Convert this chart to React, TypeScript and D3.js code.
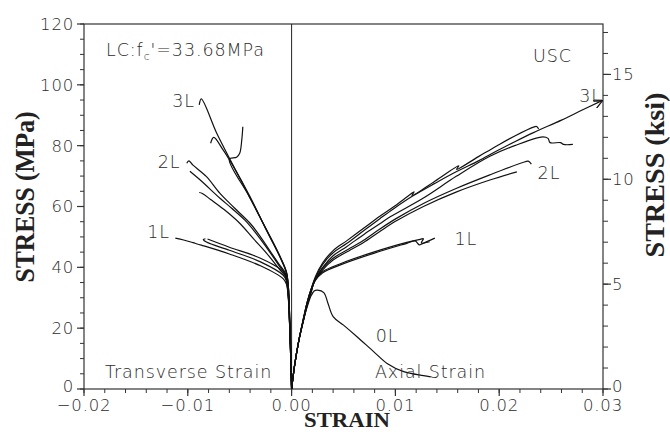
import React from "react";
import * as d3 from "d3";

type P = [number, number];

// ---- axis ticks ----
const stressTicks = [0, 20, 40, 60, 80, 100, 120];
const stressMinor = d3.range(0, 121, 5);
const strainTicks = [-0.02, -0.01, 0, 0.01, 0.02, 0.03];
const strainTickLabels = ["\u22120.02", "\u22120.01", "0.00", "0.01", "0.02", "0.03"];
const strainMinor = d3.range(-0.02, 0.0301, 0.002);
const ksiTicks = [0, 5, 10, 15];
const ksiMinor = d3.range(0, 18, 1);
const MPA_PER_KSI = 6.895;

// ---- axial strain curves ----
const axial0L: P[] = [[0, 0], [0.0003, 8], [0.0007, 16], [0.0011, 22], [0.0015, 27], [0.0019, 30.8], [0.0022, 32.3], [0.0025, 32.5], [0.0031, 31.7], [0.0035, 28.2], [0.004, 23.8], [0.005, 21], [0.0063, 17.2], [0.0079, 12.3], [0.0092, 8.4], [0.0108, 5.7], [0.0127, 4.4], [0.0134, 4.0]];
const axial1La: P[] = [[0, 0], [0.0003, 8], [0.0007, 16], [0.0011, 22], [0.0015, 27.5], [0.0019, 32], [0.0022, 35.3], [0.003, 38.2], [0.0047, 40.8], [0.0079, 44.6], [0.0111, 47.9], [0.0119, 48.7], [0.0123, 47.4], [0.0126, 47.8], [0.0138, 49.6]];
const axial1Lb: P[] = [[0, 0], [0.0003, 8], [0.0007, 16], [0.0011, 22], [0.0015, 27.5], [0.0019, 32], [0.0022, 35.6], [0.003, 38.6], [0.0047, 41.2], [0.0079, 45], [0.0111, 48.2], [0.0124, 49.2], [0.0127, 49.4], [0.0125, 48.0], [0.0133, 48.4]];
const axial2La: P[] = [[0, 0], [0.0003, 8], [0.0007, 16], [0.0011, 22], [0.0015, 28], [0.0019, 32.5], [0.0023, 36], [0.003, 39.8], [0.004, 43], [0.0055, 46], [0.0069, 48.8], [0.0085, 52.6], [0.0101, 56.1], [0.0127, 61], [0.0159, 66], [0.0191, 70.4], [0.0225, 74.7], [0.0228, 74.9], [0.0231, 73.9]];
const axial2Lb: P[] = [[0, 0], [0.0003, 8], [0.0007, 16], [0.0011, 22], [0.0015, 28], [0.0019, 32.5], [0.0023, 36], [0.003, 39.2], [0.004, 42.4], [0.0055, 45.4], [0.0069, 48.1], [0.0085, 51.8], [0.0101, 55.3], [0.0127, 60], [0.0159, 64.8], [0.0191, 68.7], [0.0217, 71.4]];
const axial3La: P[] = [[0, 0], [0.0003, 8], [0.0007, 16], [0.0011, 22.5], [0.0015, 28.5], [0.0019, 33], [0.0023, 36.5], [0.003, 41], [0.004, 44.8], [0.0053, 47.8], [0.007, 52.2], [0.0085, 56], [0.0098, 59.2], [0.0117, 63.5], [0.0138, 67.6], [0.0159, 71.5], [0.018, 75], [0.0198, 78.3], [0.0215, 81.3], [0.0233, 84.3], [0.026, 88.4], [0.028, 91.7], [0.0299, 94.8]];
const axial3Lc: P[] = [[0, 0], [0.0003, 8], [0.0007, 16], [0.0011, 22.5], [0.0015, 28.5], [0.0019, 33], [0.0023, 37], [0.003, 41.5], [0.004, 45.5], [0.0053, 48.7], [0.007, 53], [0.0085, 56.8], [0.0098, 59.8], [0.0112, 63.4], [0.0118, 64.8], [0.0116, 63.6], [0.0138, 68.3], [0.0161, 73.4], [0.0159, 72.2], [0.018, 76.4], [0.0198, 80], [0.0215, 83.2], [0.0233, 86.1], [0.0236, 86.3], [0.0238, 85.5]];
const axial3Lb: P[] = [[0, 0], [0.0003, 8], [0.0007, 16], [0.0011, 22.5], [0.0015, 28.5], [0.0019, 33], [0.0023, 36.2], [0.003, 40], [0.004, 43.8], [0.0053, 46.8], [0.007, 50.9], [0.0085, 54.3], [0.0095, 56.6], [0.0127, 62.8], [0.0159, 70], [0.0191, 76.5], [0.0215, 80], [0.0242, 82.9], [0.0247, 82.4], [0.0249, 81], [0.0259, 81], [0.0262, 80.4], [0.0271, 80.4]];

// ---- transverse strain curves ----
const trans1La: P[] = [[0, 0], [-0.0001, 12], [-0.0002, 22], [-0.0003, 29], [-0.0005, 34.5], [-0.0008, 36.2], [-0.003, 40.5], [-0.006, 44.4], [-0.0087, 47.3], [-0.0095, 48.1], [-0.0104, 49], [-0.0112, 49.6]];
const trans1Lb: P[] = [[0, 0], [-0.0001, 12], [-0.0002, 22], [-0.0003, 29.5], [-0.0005, 35.5], [-0.0008, 37.4], [-0.003, 41.8], [-0.006, 45.6], [-0.0082, 48.3], [-0.0085, 49.2], [-0.0083, 49.4]];
const trans1Lc: P[] = [[0, 0], [-0.0001, 12], [-0.0002, 22], [-0.0003, 30], [-0.0005, 36], [-0.0008, 38.6], [-0.003, 43], [-0.006, 46.6], [-0.0081, 49.3]];
const trans2La: P[] = [[0, 0], [-0.0001, 13], [-0.0002, 23], [-0.0003, 31], [-0.0005, 37.5], [-0.0012, 41], [-0.0022, 46], [-0.0032, 51], [-0.004, 54.5], [-0.0055, 59.5], [-0.0069, 64.3], [-0.0082, 69.8], [-0.0095, 73.6], [-0.0099, 75], [-0.0101, 74.2]];
const trans2Lb: P[] = [[0, 0], [-0.0001, 13], [-0.0002, 23], [-0.0003, 31], [-0.0005, 37], [-0.0012, 40.5], [-0.0022, 45.5], [-0.0035, 51.5], [-0.0045, 55.5], [-0.0058, 59.5], [-0.0069, 62.7], [-0.0088, 68.7], [-0.0098, 71.6]];
const trans2Lc: P[] = [[0, 0], [-0.0001, 12], [-0.0002, 22], [-0.0003, 30], [-0.0005, 36.5], [-0.0012, 39.5], [-0.0024, 44.6], [-0.0037, 49.5], [-0.005, 54.5], [-0.0065, 59], [-0.0078, 62.3], [-0.0086, 64.3], [-0.0089, 64.6]];
const trans3La: P[] = [[0, 0], [-0.0001, 15], [-0.0002, 25], [-0.0003, 33], [-0.0005, 38.5], [-0.0011, 43.5], [-0.0024, 52.3], [-0.0041, 63.5], [-0.0059, 75.3], [-0.0072, 84], [-0.0087, 95.4], [-0.0089, 93.4]];
const trans3Lb: P[] = [[0, 0], [-0.0001, 15], [-0.0002, 25], [-0.0003, 33], [-0.0005, 38.2], [-0.0011, 43.2], [-0.0024, 52], [-0.004, 63.2], [-0.0056, 73.1], [-0.0066, 78.6], [-0.0075, 82.7], [-0.0078, 80.8]];
const trans3Lc: P[] = [[0, 0], [-0.0001, 15], [-0.0002, 25], [-0.0003, 33], [-0.0005, 38.4], [-0.0011, 43.4], [-0.0024, 52.2], [-0.0041, 63.4], [-0.006, 75.6], [-0.0053, 76.2], [-0.005, 77.5], [-0.0048, 81.9], [-0.0047, 86.2]];

const curves: P[][] = [axial0L, axial1La, axial1Lb, axial2La, axial2Lb, axial3Lb, axial3Lc, trans1La, trans1Lb, trans1Lc, trans2La, trans2Lb, trans2Lc, trans3La, trans3Lb, trans3Lc];
const arrowCurve: P[] = axial3La;

// curve labels: [strain, stress, text]
const curveLabels: [number, number, string][] = [
  [-0.0115, 92.7, "3L"], [-0.0129, 72.7, "2L"], [-0.0139, 49.7, "1L"],
  [0.0277, 94.4, "3L"], [0.0237, 69.2, "2L"], [0.0157, 47.3, "1L"], [0.0081, 15.4, "0L"],
];

const W = 670, H = 432;
const L = 84, R = 603, T = 24, B = 389;

export default function App() {
  const x = d3.scaleLinear().domain([-0.02, 0.03]).range([L, R]);
  const y = d3.scaleLinear().domain([0, 120]).range([B, T]);
  const line = d3.line<P>().x(d => x(d[0])).y(d => y(d[1])).curve(d3.curveCatmullRom.alpha(0.5));
  const tickFont = { fontFamily: "'DejaVu Sans', sans-serif", fontSize: 16.5, fill: "#2a2a2a", fontWeight: 300 as any, letterSpacing: 0.8 };
  const noteFont = { fontFamily: "'DejaVu Sans', sans-serif", fontSize: 17.5, fill: "#2a2a2a", fontWeight: 300 as any, letterSpacing: 0.9 };
  const axisColor = "#333";
  return (
    <svg width={W} height={H} style={{ position: "absolute", left: 0, top: 0, background: "#fff" }}>
      <defs>
        <marker id="arr" viewBox="0 0 10 10" refX="9" refY="5" markerWidth="9" markerHeight="9" orient="auto" markerUnits="userSpaceOnUse">
          <path d="M0,0 L10,5 L0,10" fill="none" stroke="#111" strokeWidth={1.4} />
        </marker>
      </defs>
      {/* frame */}
      <rect x={L} y={T} width={R - L} height={B - T} fill="none" stroke={axisColor} strokeWidth={1.2} />
      <line x1={x(0)} x2={x(0)} y1={B} y2={T} stroke="#222" strokeWidth={1} />
      {/* left axis */}
      {stressMinor.map(v => (
        <line key={"sm" + v} x1={L - 4} x2={L} y1={y(v)} y2={y(v)} stroke={axisColor} strokeWidth={1} />
      ))}
      {stressTicks.map(v => (
        <g key={"st" + v}>
          <line x1={L - 7} x2={L} y1={y(v)} y2={y(v)} stroke={axisColor} strokeWidth={1.2} />
          <text x={L - 10} y={y(v)} dy={v === 0 ? "0.2em" : "0.36em"} textAnchor="end" {...tickFont}>{v}</text>
        </g>
      ))}
      {/* bottom axis */}
      {strainMinor.map((v, i) => (
        <line key={"xm" + i} x1={x(v)} x2={x(v)} y1={B} y2={B + 4} stroke={axisColor} strokeWidth={1} />
      ))}
      {strainTicks.map((v, i) => (
        <g key={"xt" + i}>
          <line x1={x(v)} x2={x(v)} y1={B} y2={B + 7} stroke={axisColor} strokeWidth={1.2} />
          <text x={x(v)} y={411} textAnchor="middle" {...tickFont}>{strainTickLabels[i]}</text>
        </g>
      ))}
      {/* right axis (ksi) */}
      {ksiMinor.map(v => (
        <line key={"km" + v} x1={R} x2={R + 5} y1={y(v * MPA_PER_KSI)} y2={y(v * MPA_PER_KSI)} stroke={axisColor} strokeWidth={1} />
      ))}
      {ksiTicks.map(v => (
        <g key={"kt" + v}>
          <line x1={R} x2={R + 8} y1={y(v * MPA_PER_KSI)} y2={y(v * MPA_PER_KSI)} stroke={axisColor} strokeWidth={1.2} />
          <text x={R + 9} y={y(v * MPA_PER_KSI)} dy={v === 0 ? "0.2em" : "0.36em"} textAnchor="start" {...tickFont}>{v}</text>
        </g>
      ))}
      {/* curves */}
      {curves.map((c, i) => (
        <path key={"c" + i} d={line(c) || ""} fill="none" stroke="#111" strokeWidth={1.2} strokeLinejoin="round" />
      ))}
      <path d={line(arrowCurve) || ""} fill="none" stroke="#111" strokeWidth={1.2} markerEnd="url(#arr)" />
      {/* labels */}
      {curveLabels.map((l, i) => (
        <text key={"l" + i} x={x(l[0])} y={y(l[1])} {...noteFont}>{l[2]}</text>
      ))}
      <text x={106} y={56} {...noteFont}>LC:f<tspan fontSize={11} dy={4}>c</tspan><tspan dy={-4}>'=33.68MPa</tspan></text>
      <text x={533} y={62} {...noteFont}>USC</text>
      <text x={105} y={378} {...noteFont}>Transverse  Strain</text>
      <text x={375} y={378} {...noteFont}>Axial  Strain</text>
      {/* axis titles */}
      <text transform="translate(34,197) rotate(-90)" textAnchor="middle" fontFamily="'Liberation Serif', serif" fontWeight="bold" fontSize={27} fill="#222" textLength={171} lengthAdjust="spacingAndGlyphs">STRESS  (MPa)</text>
      <text transform="translate(664,175) rotate(-90)" textAnchor="middle" fontFamily="'Liberation Serif', serif" fontWeight="bold" fontSize={27} fill="#222" textLength={165} lengthAdjust="spacingAndGlyphs">STRESS  (ksi)</text>
      <text x={347} y={427} textAnchor="middle" fontFamily="'Liberation Serif', serif" fontWeight="bold" fontSize={21} fill="#222" textLength={86} lengthAdjust="spacingAndGlyphs">STRAIN</text>
    </svg>
  );
}
